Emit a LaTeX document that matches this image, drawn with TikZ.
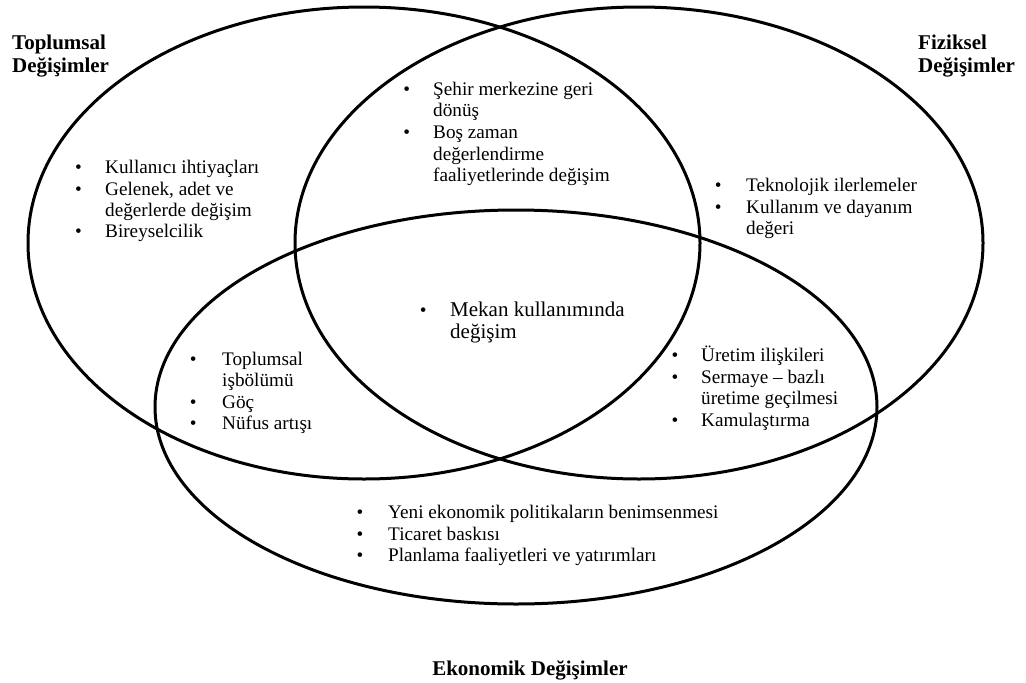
\documentclass[tikz,border=0pt]{standalone}
\usepackage{fontspec}
\setmainfont{Liberation Serif}
\begin{document}
\begin{tikzpicture}[x=1pt,y=-1pt,
  ring/.style={line width=3pt},
  txt/.style={anchor=base west, inner sep=0pt, font=\fontsize{19.2}{22}\selectfont},
  bigtxt/.style={anchor=base west, inner sep=0pt, font=\fontsize{21}{24}\selectfont},
  dot/.style={anchor=base, inner sep=0pt, font=\fontsize{19.2}{22}\selectfont},
  title/.style={anchor=base west, inner sep=0pt, font=\fontsize{21}{24}\selectfont\bfseries}]
\useasboundingbox[fill=white] (0,0) rectangle (1026,683);
% ellipses
\draw[ring] (364,243) ellipse [x radius=336pt, y radius=236pt];
\draw[ring] (639,243) ellipse [x radius=344pt, y radius=236pt];
\draw[ring] (516,407) ellipse [x radius=361pt, y radius=197pt];
% titles
\node[title] (t1a) at (12,49) {Toplumsal};
\node[title] (t1b) at (12,72) {Değişimler};
\node[title] (t2a) at (918,49) {Fiziksel};
\node[title] (t2b) at (918,72) {Değişimler};
\node[title, anchor=base] (t3) at (530,675) {Ekonomik Değişimler};
% left only
\node[dot] (a1d) at (78.5,173) {•};
\node[txt] (a1) at (105,173) {Kullanıcı ihtiyaçları};
\node[dot] (a2d) at (78.5,195) {•};
\node[txt] (a2) at (105,195) {Gelenek, adet ve};
\node[txt] (a2b) at (105,216) {değerlerde değişim};
\node[dot] (a3d) at (78.5,237) {•};
\node[txt] (a3) at (105,237) {Bireyselcilik};
% left and right
\node[dot] (c1d) at (406.7,95) {•};
\node[txt] (c1) at (433,95) {Şehir merkezine geri};
\node[txt] (c1b) at (433,116.5) {dönüş};
\node[dot] (c2d) at (406.7,138) {•};
\node[txt] (c2) at (433,138) {Boş zaman};
\node[txt] (c2b) at (433,160) {değerlendirme};
\node[txt] (c2c) at (433,181) {faaliyetlerinde değişim};
% right only
\node[dot] (r1d) at (718.3,191) {•};
\node[txt] (r1) at (746,191) {Teknolojik ilerlemeler};
\node[dot] (r2d) at (718.3,213) {•};
\node[txt] (r2) at (746,213) {Kullanım ve dayanım};
\node[txt] (r2b) at (746,234) {değeri};
% centre
\node[dot] (m1d) at (423.3,316) {•};
\node[bigtxt] (m1) at (450,316) {Mekan kullanımında};
\node[bigtxt] (m1b) at (450,338) {değişim};
% left and bottom
\node[dot] (l1d) at (193.3,365) {•};
\node[txt] (l1) at (222,365) {Toplumsal};
\node[txt] (l1b) at (222,386) {işbölümü};
\node[dot] (l2d) at (193.3,408) {•};
\node[txt] (l2) at (222,408) {Göç};
\node[dot] (l3d) at (193.3,429) {•};
\node[txt] (l3) at (222,429) {Nüfus artışı};
% right and bottom
\node[dot] (e1d) at (675,361) {•};
\node[txt] (e1) at (701,361) {Üretim ilişkileri};
\node[dot] (e2d) at (675,383) {•};
\node[txt] (e2) at (701,383) {Sermaye – bazlı};
\node[txt] (e2b) at (701,404) {üretime geçilmesi};
\node[dot] (e3d) at (675,426) {•};
\node[txt] (e3) at (701,426) {Kamulaştırma};
% bottom only
\node[dot] (y1d) at (360,518) {•};
\node[txt] (y1) at (388,518) {Yeni ekonomik politikaların benimsenmesi};
\node[dot] (y2d) at (360,540) {•};
\node[txt] (y2) at (388,540) {Ticaret baskısı};
\node[dot] (y3d) at (360,561) {•};
\node[txt] (y3) at (388,561) {Planlama faaliyetleri ve yatırımları};
\end{tikzpicture}
\end{document}
